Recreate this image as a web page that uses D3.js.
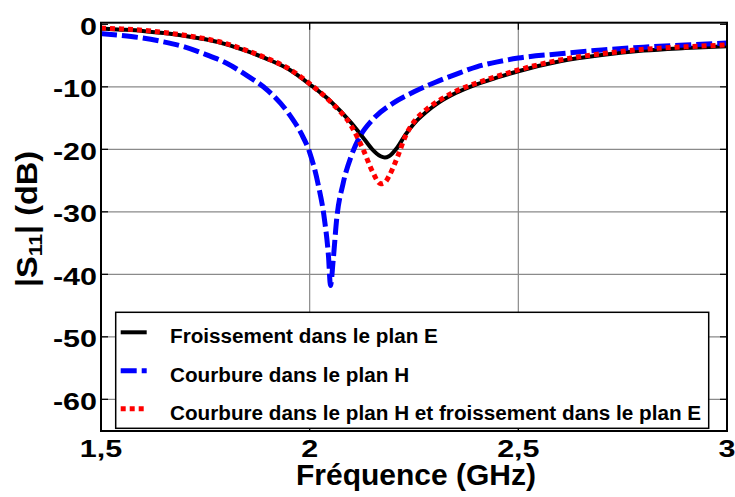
<!DOCTYPE html>
<html><head><meta charset="utf-8">
<script src="https://cdn.jsdelivr.net/npm/d3@7"></script>
<style>body{margin:0;background:#fff}svg text{font-family:"Liberation Sans",Arial,sans-serif;font-weight:bold;fill:#000}</style>
</head><body>
<svg id="chart" width="735" height="497"></svg>
<script>
// ---- data ----
const freqBlack = [1.50,1.55,1.60,1.65,1.70,1.75,1.80,1.85,1.90,1.95,2.00,2.05,2.10,2.13,2.15,2.17,2.18,2.19,2.21,2.23,2.25,2.28,2.31,2.35,2.40,2.45,2.50,2.60,2.70,2.80,2.90,3.00];
const s11Black  = [-0.7,-0.85,-1.05,-1.4,-1.85,-2.4,-3.2,-4.3,-5.6,-7.2,-9.6,-12.3,-15.8,-18.3,-20.0,-21.1,-21.3,-21.1,-19.7,-17.6,-15.9,-14.0,-12.5,-11.0,-9.6,-8.5,-7.5,-5.9,-4.9,-4.2,-3.8,-3.5];
const freqBlue = [1.50,1.55,1.60,1.65,1.70,1.75,1.80,1.85,1.90,1.95,1.98,2.00,2.02,2.035,2.045,2.05,2.056,2.065,2.08,2.10,2.12,2.15,2.20,2.25,2.30,2.35,2.40,2.45,2.50,2.60,2.70,2.80,2.90,3.00];
const s11Blue  = [-1.5,-1.8,-2.2,-2.8,-3.6,-4.8,-6.2,-8.2,-10.6,-14.3,-17.5,-20.5,-25.5,-31,-37,-41.8,-38,-31,-25.5,-21,-18,-15.3,-12.6,-10.8,-9.3,-8.0,-6.8,-6.0,-5.4,-4.7,-4.1,-3.65,-3.3,-3.0];
const freqRed = [1.50,1.55,1.60,1.65,1.70,1.75,1.80,1.85,1.90,1.95,2.00,2.05,2.10,2.13,2.15,2.17,2.18,2.19,2.21,2.23,2.25,2.28,2.31,2.35,2.40,2.45,2.50,2.60,2.70,2.80,2.90,3.00];
const s11Red  = [-0.6,-0.75,-0.95,-1.3,-1.75,-2.3,-3.1,-4.2,-5.5,-7.1,-9.5,-12.4,-16.3,-20.3,-23.5,-25.5,-25.3,-24.3,-21.3,-17.8,-15.6,-13.6,-12.2,-10.7,-9.4,-8.3,-7.3,-5.7,-4.7,-4.0,-3.6,-3.3];
const seriesNames = ["Froissement dans le plan E","Courbure dans le plan H","Courbure dans le plan H et froissement dans le plan E"];
const xTicks = [1.5,2,2.5,3];
const xTickLabels = ["1,5","2","2,5","3"];
const yTicks = [0,-10,-20,-30,-40,-50,-60];
const yTickLabels = ["0","-10","-20","-30","-40","-50","-60"];

// ---- layout ----
const L=101, R=727, T=22.7, B=431;
const svg = d3.select("#chart");
const x = d3.scaleLinear().domain([1.5,3]).range([L,R]);
const y = d3.scaleLinear().domain([-65.07,0.26]).range([B,T]);

svg.append("defs").append("clipPath").attr("id","clip")
  .append("rect").attr("x",L).attr("y",T).attr("width",R-L).attr("height",B-T);

// grid
const grid = svg.append("g");
grid.selectAll(".gx").data(xTicks.filter(d=>d>1.5&&d<3)).join("line")
  .attr("x1",d=>x(d)).attr("x2",d=>x(d)).attr("y1",T).attr("y2",B)
  .attr("stroke","#8a8a8a").attr("stroke-width",1.2);
grid.selectAll(".gy").data(yTicks.filter(d=>d<0)).join("line")
  .attr("x1",L).attr("x2",R).attr("y1",d=>y(d)).attr("y2",d=>y(d))
  .attr("stroke","#8a8a8a").attr("stroke-width",1.2);

// ticks (inward, all sides)
const tk = svg.append("g").attr("stroke","#000").attr("stroke-width",1.2);
xTicks.forEach(d=>{
  tk.append("line").attr("x1",x(d)).attr("x2",x(d)).attr("y1",B).attr("y2",B-7);
  tk.append("line").attr("x1",x(d)).attr("x2",x(d)).attr("y1",T).attr("y2",T+7);
});
yTicks.forEach(d=>{
  tk.append("line").attr("x1",L).attr("x2",L+7).attr("y1",y(d)).attr("y2",y(d));
  tk.append("line").attr("x1",R).attr("x2",R-7).attr("y1",y(d)).attr("y2",y(d));
});

// curves
const line = d3.line().x(d=>x(d[0])).y(d=>y(d[1])).curve(d3.curveMonotoneX);
const curves = svg.append("g").attr("clip-path","url(#clip)").attr("fill","none");
const styles = [
  {color:"#000000", width:4, dash:null},
  {color:"#0000ff", width:5, dash:"16,5"},
  {color:"#ff0000", width:5, dash:"5,4"}
];
const data = [
  d3.zip(freqBlack,s11Black),
  d3.zip(freqBlue,s11Blue),
  d3.zip(freqRed,s11Red)
];
data.forEach((pts,i)=>{
  curves.append("path").attr("d",line(pts))
    .attr("stroke",styles[i].color).attr("stroke-width",styles[i].width)
    .attr("stroke-dasharray",styles[i].dash).attr("stroke-linejoin","round");
});

// axes box
svg.append("rect").attr("x",L).attr("y",T).attr("width",R-L).attr("height",B-T)
  .attr("fill","none").attr("stroke","#000").attr("stroke-width",2);

// legend
const lg = svg.append("g");
lg.append("rect").attr("x",115.7).attr("y",312.3).attr("width",593).attr("height",116)
  .attr("fill","#fff").attr("stroke","#000").attr("stroke-width",1.5);
const rowY = [332.3,370.7,408.7];
seriesNames.forEach((name,i)=>{
  lg.append("line").attr("x1",120.7).attr("x2",146.7).attr("y1",rowY[i]).attr("y2",rowY[i])
    .attr("stroke",styles[i].color).attr("stroke-width",styles[i].width)
    .attr("stroke-dasharray",styles[i].dash);
  lg.append("text").attr("x",170).attr("y",rowY[i]+11).attr("font-size",20.7).text(name);
});

// tick labels
xTicks.forEach((d,i)=>{
  svg.append("g").attr("transform",`translate(${x(d)},457) scale(1.27,1)`)
    .append("text").attr("text-anchor","middle").attr("font-size",24).text(xTickLabels[i]);
});
yTicks.forEach((d,i)=>{
  svg.append("g").attr("transform",`translate(97,${y(d)+10.2}) scale(1.27,1)`)
    .append("text").attr("text-anchor","end").attr("font-size",24).text(yTickLabels[i]);
});

// axis titles
svg.append("text").attr("x",416).attr("y",485).attr("text-anchor","middle")
  .attr("font-size",30).text("Fréquence (GHz)");
const yt = svg.append("g").attr("transform","translate(37,219) rotate(-90) scale(1.12,1)")
  .append("text").attr("text-anchor","middle").attr("font-size",29);
yt.append("tspan").text("|S");
yt.append("tspan").attr("font-size",19).attr("dy",5).text("11");
yt.append("tspan").attr("dy",-5).text("| (dB)");
</script>
</body></html>
